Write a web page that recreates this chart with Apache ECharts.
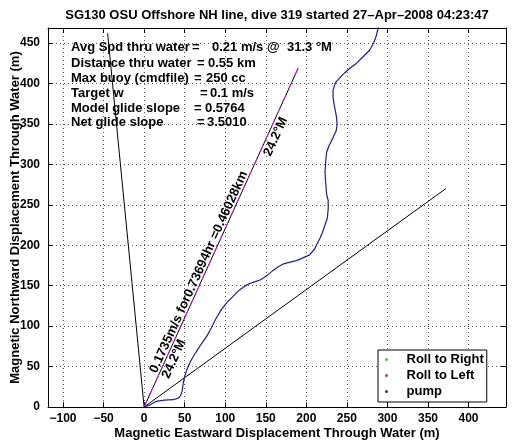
<!DOCTYPE html>
<html><head><meta charset="utf-8">
<script src="https://cdn.jsdelivr.net/npm/echarts@6/dist/echarts.min.js"></script>
<style>html,body{margin:0;padding:0;background:#fff}#c{width:514px;height:442px}</style>
</head><body><div id="c"></div>
<script>
// ---- data ----
const xTicks = [-100, -50, 0, 50, 100, 150, 200, 250, 300, 350, 400];
const yTicks = [0, 50, 100, 150, 200, 250, 300, 350, 400, 450];
const trackX = [0, 8, 15, 25, 36, 42, 45, 47, 48, 50, 53, 57, 61, 66, 70, 77, 83, 89, 95, 102, 110, 118, 125, 131, 137, 143, 148, 152, 158, 165, 172, 180, 188, 195, 204, 210, 213, 217, 220, 223, 226, 227, 227, 225, 224, 223, 224, 225, 228, 233, 237, 238, 237, 235, 233, 233, 236, 244, 254, 262, 270, 278, 283, 286, 288, 289];
const trackY = [0, 3, 7, 8.5, 9, 11, 14, 20, 28, 38, 47, 56, 63, 71, 77, 87, 98, 110, 120, 129, 137, 145, 150, 153, 155, 157, 160, 163, 168, 173, 177, 179, 181, 184, 188, 195, 201, 209, 216, 225, 234, 245, 255, 263, 276, 290, 305, 315, 323, 333, 342, 350, 360, 370, 382, 392, 401, 410, 419, 425, 433, 441, 450, 458, 466, 472];
const headingNW = [[0, 0], [-45, 462]];
const headingNE = [[0, 0], [372, 270]];
const headingAvg = [[0, 0], [190, 419]];
const legendNames = ['Roll to Right', 'Roll to Left', 'pump'];
const legendColors = ['#00cc00', '#cc0000', '#000000'];
const titleText = 'SG130 OSU Offshore NH line, dive 319 started 27\u2013Apr\u20132008 04:23:47';
const infoLabels = ['Avg Spd thru water', 'Distance thru water', 'Max buoy (cmdfile)', 'Target w', 'Model glide slope', 'Net glide slope'];
const infoValues = ['0.21 m/s @', '0.55 km', '250 cc', '0.1 m/s', '0.5764', '3.5010'];
const infoExtra = '31.3 \u00B0M';
const headingLabel = '24.2\u00B0M';
const avgLabel = '0.1735m/s for0.73694hr =0.46028km';

// ---- chart ----
const FF = '"Liberation Sans", Arial, Helvetica, sans-serif';
const chart = echarts.init(document.getElementById('c'), null, {renderer: 'canvas'});
const fmt = v => (v < 0 ? '\u2212' + Math.abs(v) : String(v));
const track = trackX.map((x, i) => [x, trackY[i]]);

const xMin = -118.5, xMax = 446.2, yMin = 0, yMax = 468.5;
function mkAxis(isX, primary, pos) {
  const ticks = isX ? xTicks : yTicks;
  return {
    type: 'value', min: isX ? xMin : yMin, max: isX ? xMax : yMax, position: pos,
    axisLine: {show: true, onZero: false, lineStyle: {color: '#000', width: 1}},
    axisTick: {show: true, inside: true, length: 5, customValues: ticks, lineStyle: {color: '#000'}},
    axisLabel: {show: primary, customValues: ticks, formatter: fmt, color: '#000', fontWeight: 'bold', fontSize: 12, fontFamily: FF, margin: isX ? 6 : 8},
    splitLine: {show: primary, lineStyle: {type: [1, 3], color: '#555', width: 1}},
    name: primary ? (isX ? 'Magnetic Eastward Displacement Through Water (m)' : 'Magnetic Northward Displacement Through Water (m)') : '',
    nameLocation: 'middle', nameGap: isX ? 20 : 26, nameMoveOverlap: false,
    nameTextStyle: {color: '#000', fontWeight: 'bold', fontSize: 13, fontFamily: FF}
  };
}

const ang = 65.6 * Math.PI / 180;
const txt = (t, x, y, extra) => Object.assign({type: 'text', x: x, y: y, z: 50,
  style: Object.assign({text: t, fill: '#000', font: 'bold 13px ' + FF, textAlign: 'left', textVerticalAlign: 'middle'}, extra || {})});
const rowY = [47.3, 63.3, 78.3, 93.3, 108.3, 122.7];
const eqX = [192, 197, 194, 200, 194, 197];
const valX = [212, 208, 206, 210, 205, 207];
const graphics = [
  txt(titleText, 277, 15, {textAlign: 'center', font: 'bold 13px ' + FF})
];
infoLabels.forEach((l, i) => {
  graphics.push(txt(l, 71, rowY[i]));
  graphics.push(txt('=', eqX[i], rowY[i]));
  graphics.push(txt(infoValues[i], valX[i], rowY[i]));
});
graphics.push(txt(infoExtra, 287, rowY[0]));
graphics.push(Object.assign(txt(headingLabel, 275.7, 136.7, {textAlign: 'center'}), {rotation: ang}));
graphics.push(Object.assign(txt(headingLabel, 174, 359, {textAlign: 'center'}), {rotation: ang}));
graphics.push(Object.assign(txt(avgLabel, 198.8, 272, {textAlign: 'center'}), {rotation: ang}));

const lineS = (data, color, extra) => Object.assign({
  type: 'line', data: data, showSymbol: false, symbol: 'none', silent: true, clip: true,
  lineStyle: Object.assign({color: color, width: 1}, extra || {}), animation: false, z: 3
});

const series = [
  lineS(headingNW, '#000'),
  lineS(headingNE, '#000'),
  lineS(headingAvg, '#000'),
  lineS(headingAvg, '#ff00ff', {type: [7, 7]}),
  lineS(track, '#1c1ca0', {width: 1.2})
];
legendNames.forEach((n, i) => series.push({
  type: 'scatter', name: n, data: [], symbol: 'circle', symbolSize: 3, itemStyle: {color: legendColors[i]}
}));

chart.setOption({
  animation: false,
  backgroundColor: '#fff',
  grid: {left: 48, right: 8, top: 28, bottom: 35, containLabel: false, outerBoundsMode: 'none'},
  xAxis: [mkAxis(true, true, 'bottom'), mkAxis(true, false, 'top')],
  yAxis: [mkAxis(false, true, 'left'), mkAxis(false, false, 'right')],
  legend: {
    data: legendNames.map(n => ({name: n, icon: 'circle'})),
    orient: 'vertical', left: 378, top: 350, padding: [2, 3, 3, 7],
    itemWidth: 30, itemHeight: 3, itemGap: 1,
    textStyle: {color: '#000', fontWeight: 'bold', fontSize: 13, fontFamily: FF, lineHeight: 15},
    borderColor: '#000', borderWidth: 1, borderRadius: 0, backgroundColor: '#fff', z: 20
  },
  graphic: graphics,
  series: series
});
</script></body></html>
